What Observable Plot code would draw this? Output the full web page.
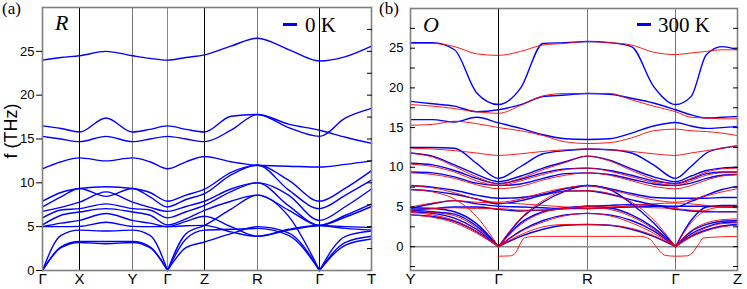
<!DOCTYPE html>
<html><head><meta charset="utf-8">
<script src="https://cdn.jsdelivr.net/npm/d3@7"></script>
<script src="https://cdn.jsdelivr.net/npm/@observablehq/plot@0.6"></script>
<style>
body{margin:0;background:#fff}
#wrap{position:relative;width:747px;height:289px;overflow:hidden}
#wrap svg{position:absolute;top:0}
.t{position:absolute;white-space:nowrap;line-height:1;color:#000}
.serif{font-family:"Liberation Serif","DejaVu Serif",serif}
.sw{position:absolute;background:#0000ff;height:3px;width:14px}
</style></head>
<body><div id="wrap"></div>
<script>
// ---- k-path (high-symmetry points) ----
const kLeft = [0, 0.37, 0.90, 1.25, 1.62, 2.15, 2.77, 3.29];
const labelsLeft = ["Γ","X","Y","Γ","Z","R","Γ","T"];
const kRight = [0, 0.88, 1.77, 2.65, 3.27];
const labelsRight = ["Y","Γ","R","Γ","Z"];
const yTicks = [0, 5, 10, 15, 20, 25];

// ---- (a) R phase, 0 K : values at Γ,m,X,m,Y,m,Γ,m,Z,m,R,m,Γ,m,T ----
const L_top = [24.0,24.3,24.5,25.0,24.5,24.2,24.0,24.3,24.6,25.6,26.5,25.2,23.9,24.4,25.6];
const L_16  = [16.5,16.2,15.8,17.4,15.8,16.1,16.5,16.1,15.8,17.6,17.8,16.7,16.0,15.2,14.5];
const L_15  = [15.3,15.0,14.7,15.3,14.7,15.0,15.3,15.0,14.7,16.0,17.8,16.3,15.3,17.4,18.5];
const L_12  = [11.6,12.4,12.85,12.5,12.85,12.4,11.6,12.4,13.0,12.4,12.0,11.9,11.8,12.1,12.5];
const L_O1  = [7.9,8.9,9.35,9.55,9.35,8.9,7.9,8.6,9.27,11.2,12.0,10.3,7.9,9.4,11.4];
const L_O2  = [7.25,8.4,9.35,8.45,9.35,8.4,7.25,8.1,8.77,10.9,12.0,9.2,7.06,8.6,10.3];
const L_O3  = [6.75,7.2,7.8,8.97,7.8,7.2,6.75,7.3,7.9,9.3,10.0,8.6,5.72,7.3,9.3];
const L_O4  = [6.0,6.9,7.06,7.6,7.06,6.9,6.0,6.7,7.44,9.0,10.0,7.4,5.15,6.3,7.6];
const L_O5  = [5.2,6.3,6.67,7.06,6.67,6.3,5.2,5.9,6.87,7.9,8.6,6.9,5.15,6.1,7.3];
const L_O6  = [5.0,5.4,5.72,6.5,5.72,5.4,5.0,5.6,6.18,5.0,3.9,4.7,5.15,5.0,4.9];
const L_O7  = [5.0,5.0,5.03,5.5,5.03,5.0,5.0,5.1,5.15,4.4,3.9,4.6,5.1,4.8,4.6];
const L_A1  = [0,2.6,3.2,3.05,3.2,2.6,0,2.6,3.25,4.2,5.0,4.3,0,2.9,3.6];
const L_A2  = [0,2.7,3.3,3.3,3.3,2.7,0,3.6,4.6,4.7,4.8,4.0,0,3.2,3.9];
const L_A3  = [0,4.0,4.6,4.5,4.6,4.0,0,4.2,5.15,7.0,8.6,6.2,0,3.9,4.5];
const bandsLeft = [L_top,L_16,L_15,L_12,L_O1,L_O2,L_O3,L_O4,L_O5,L_O6,L_O7,L_A1,L_A2,L_A3];

// ---- (b) O phase, 300 K : values at Y,q,m,q,Γ,q,m,q,R,q,m,q,Γ,q,m,q,Z ----
const B_U1 = [25.7,25.7,24.8,19.4,17.9,20.0,25.6,25.7,25.85,25.7,25.2,20.2,17.9,18.9,24.2,25.2,24.8];
const B_U2 = [18.3,18.0,17.7,17.0,17.25,17.9,18.9,19.1,19.3,19.2,18.7,18.1,17.25,16.6,16.2,16.3,16.4];
const B_U3 = [16.0,16.0,15.7,16.3,15.6,14.9,14.1,13.6,13.5,13.6,14.3,15.2,15.65,15.2,14.9,15.0,15.15];
const B_1  = [12.5,12.5,12.4,10.5,8.6,10.1,11.7,12.1,12.3,12.2,11.8,10.3,8.6,10.1,11.8,12.4,12.7];
const B_2  = [11.8,11.4,10.3,9.1,8.2,8.9,9.9,10.7,11.4,10.9,9.8,8.8,8.2,8.9,9.6,9.9,10.0];
const B_3  = [10.5,10.3,9.6,8.6,7.95,8.5,9.3,9.8,9.9,9.6,9.0,8.3,7.95,8.5,9.2,9.4,9.4];
const B_4  = [9.4,9.3,8.8,8.0,7.7,7.9,8.6,9.2,9.3,9.1,8.5,7.9,7.7,8.0,8.6,9.0,9.1];
const B_5  = [7.7,7.5,7.1,6.5,6.1,6.2,6.6,7.3,7.7,7.3,6.7,6.2,6.1,6.1,6.1,6.2,6.2];
const B_6  = [7.2,7.0,6.6,6.0,5.4,5.8,6.5,7.0,7.05,6.6,5.9,5.3,5.0,5.7,6.5,7.2,7.6];
const B_7  = [4.8,5.4,5.8,5.4,5.1,5.0,4.9,4.8,4.8,4.9,5.0,5.1,5.1,5.1,5.1,5.0,5.0];
const B_8  = [4.6,4.8,5.0,5.0,4.7,4.5,4.6,4.8,5.1,5.2,5.3,5.2,4.7,4.5,4.4,4.4,4.4];
const B_A1 = [4.0,3.8,3.2,1.9,0,1.3,2.2,2.7,2.8,2.7,2.2,1.3,0,1.3,2.1,2.6,2.8];
const B_A2 = [4.4,4.2,3.6,2.2,0,2.0,3.3,4.0,4.2,4.0,3.3,2.0,0,1.6,2.5,3.0,3.1];
const B_A3 = [4.6,4.4,4.1,2.6,0,3.0,4.4,4.9,5.1,4.9,4.0,2.4,0,1.9,2.8,3.2,3.3];
const B_A4 = [4.9,4.8,4.4,2.9,0,3.5,5.6,7.0,7.7,7.2,5.4,3.0,0,3.3,5.0,5.2,5.2];
const bandsBlue = [B_U1,B_U2,B_U3,B_1,B_2,B_3,B_4,B_5,B_6,B_7,B_8,B_A1,B_A2,B_A3,B_A4];

const R_U1 = [25.6,25.6,25.2,24.3,24.1,24.6,25.4,25.6,25.85,25.7,25.4,24.5,24.2,24.4,24.6,24.8,24.8];
const R_U2 = [17.9,17.7,17.4,17.0,16.8,17.8,19.0,19.3,19.3,19.3,18.5,17.7,17.0,16.3,16.2,16.1,16.1];
const R_U3 = [15.3,15.4,15.8,15.5,15.0,14.6,14.0,13.2,13.0,13.1,13.7,14.6,14.8,14.6,14.5,14.3,14.0];
const R_1  = [12.4,12.3,12.1,11.8,11.5,11.7,12.0,12.2,12.3,12.2,12.0,11.7,11.5,11.8,12.1,12.4,12.7];
const R_2  = [11.8,11.3,10.1,8.8,7.9,8.6,9.7,10.6,11.4,10.8,9.6,8.5,7.9,8.6,9.4,9.8,9.9];
const R_3  = [10.4,10.1,9.4,8.3,7.7,8.3,9.1,9.7,9.9,9.5,8.8,8.1,7.7,8.3,9.0,9.3,9.3];
const R_4  = [9.3,9.1,8.6,7.8,7.3,7.6,8.4,9.0,9.3,9.0,8.3,7.6,7.3,7.7,8.4,8.9,9.1];
const R_5  = [7.7,7.4,6.8,6.0,5.6,6.0,6.8,7.4,7.7,7.2,6.5,5.9,5.6,5.9,6.4,6.9,7.3];
const R_6  = [7.2,6.9,6.0,3.8,0,3.6,5.8,7.0,7.05,6.7,5.6,3.4,0,3.0,4.6,5.0,5.1];
const R_7  = [5.0,5.5,5.8,5.6,5.5,5.4,5.2,5.0,4.8,4.9,5.2,5.4,5.5,5.4,5.2,5.0,4.9];
const R_8  = [4.6,4.8,4.9,4.8,4.8,4.6,4.6,4.8,5.1,5.1,5.0,4.9,4.8,4.6,4.5,4.4,4.4];
const R_A1 = [4.3,4.0,3.3,1.9,0,1.9,3.1,3.9,4.2,3.9,3.0,1.7,0,1.4,2.4,2.9,3.0];
const R_A2 = [4.0,3.7,3.0,1.7,0,1.5,2.5,2.8,2.8,2.7,2.3,1.4,0,1.2,2.0,2.5,2.7];
const R_A3 = [4.5,4.3,3.9,2.4,0,2.8,4.3,4.8,5.0,4.7,3.8,2.2,0,2.0,3.0,3.4,3.5];
const bandsRed = [R_U1,R_U2,R_U3,R_1,R_2,R_3,R_4,R_5,R_6,R_7,R_8,R_A1,R_A2,R_A3];

// red soft mode (imaginary near Γ), own k samples
const softK = [0.88,1.00,1.05,1.09,1.14,1.25,1.77,2.30,2.40,2.45,2.55,2.65,2.77,2.83,2.88,2.93,3.27];
const softF = [-1.2,-1.15,-0.8,0.2,1.1,1.3,1.3,1.3,0.9,0.1,-1.1,-1.2,-1.15,-0.6,0.3,1.1,1.3];

// ---- helpers ----
function grid(ks, n){
  const g=[];
  for(let s=0;s<ks.length-1;s++) for(let j=0;j<n;j++) g.push(ks[s]+(ks[s+1]-ks[s])*j/n);
  g.push(ks[ks.length-1]);
  return g;
}
// continuous bands, split only at acoustic zeros (cusp at Γ)
function rows(bands, ks, n, tag){
  const g=grid(ks,n), out=[];
  bands.forEach((b,bi)=>{
    let seg=0;
    for(let i=0;i<g.length;i++){
      out.push({k:g[i], f:b[i], z:tag+bi+"-"+seg});
      if(b[i]===0 && i>0 && i<g.length-1){ seg++; out.push({k:g[i], f:b[i], z:tag+bi+"-"+seg}); }
    }
  });
  return out;
}
const leftRows = rows(bandsLeft, kLeft, 2, "L");
const blueRows = rows(bandsBlue, kRight, 4, "B");
const redRows = rows(bandsRed, kRight, 4, "R");
const softRows = softK.map((k,i)=>({k, f:softF[i]}));

const font = "'Liberation Sans', Arial, sans-serif";
const wrap = document.getElementById("wrap");

const left = Plot.plot({
  width:372, height:289, marginLeft:42, marginRight:1, marginTop:7, marginBottom:19,
  x:{domain:[kLeft[0], kLeft[kLeft.length-1]], axis:null},
  y:{domain:[0,30], axis:null},
  style:{fontFamily:font, fontSize:"13px", color:"#000", background:"transparent", overflow:"visible"},
  marks:[
    Plot.ruleX(kLeft.slice(1,-1), {stroke:(d,i)=>[ "#000","#777","#888","#000","#777","#000"][i], strokeWidth:1}),
    Plot.line(leftRows, {x:"k", y:"f", z:"z", stroke:"#0000ff", strokeWidth:1.4, curve:"monotone-x"}),
    Plot.frame({stroke:"#808080", strokeWidth:1.6}),
    Plot.axisY({ticks:yTicks, tickSize:6, tickPadding:2, label:null}),
    Plot.axisY({anchor:"right", ticks:d3.range(2.5,30,2.5), tickSize:-5, tickFormat:()=>"", label:null}),
    Plot.axisX({ticks:kLeft, tickFormat:(d,i)=>labelsLeft[i], tickSize:0, tickPadding:3, fontSize:15, label:null})
  ]
});
left.style.left="0px";
wrap.appendChild(left);

const right = Plot.plot({
  width:375, height:289, marginLeft:38, marginRight:10, marginTop:8, marginBottom:19,
  x:{domain:[kRight[0], kRight[kRight.length-1]], axis:null},
  y:{domain:[-3,30], axis:null},
  style:{fontFamily:font, fontSize:"13px", color:"#000", background:"transparent", overflow:"visible"},
  marks:[
    Plot.ruleX(kRight.slice(1,-1), {stroke:(d,i)=>["#000","#777","#777"][i], strokeWidth:1}),
    Plot.ruleY([0], {stroke:"#888", strokeWidth:1.5}),
    Plot.line(blueRows, {x:"k", y:"f", z:"z", stroke:"#0000ff", strokeWidth:1.4, curve:"monotone-x"}),
    Plot.line(redRows, {x:"k", y:"f", z:"z", stroke:"#ff0000", strokeWidth:0.9, curve:"monotone-x"}),
    Plot.line(softRows, {x:"k", y:"f", stroke:"#ff0000", strokeWidth:0.9, curve:"monotone-x"}),
    Plot.frame({stroke:"#808080", strokeWidth:1.6}),
    Plot.axisY({ticks:yTicks, tickSize:0, tickPadding:7, label:null}),
    Plot.axisY({ticks:d3.range(-2.5,30,2.5), tickSize:-5, tickFormat:()=>"", label:null}),
    Plot.axisY({anchor:"right", ticks:d3.range(-2.5,30,2.5), tickSize:-5, tickFormat:()=>"", label:null}),
    Plot.axisX({ticks:kRight, tickFormat:(d,i)=>labelsRight[i], tickSize:0, tickPadding:3, fontSize:15, label:null})
  ]
});
right.style.left="372px";
wrap.appendChild(right);

// ---- text overlays ----
function txt(s, x, y, size, cls, extra){
  const d=document.createElement("div");
  d.className="t "+(cls||"");
  d.textContent=s;
  d.style.left=x+"px"; d.style.top=y+"px"; d.style.fontSize=size+"px";
  if(extra) Object.assign(d.style, extra);
  wrap.appendChild(d);
  return d;
}
function swatch(x,y){const d=document.createElement("div");d.className="sw";d.style.left=x+"px";d.style.top=y+"px";wrap.appendChild(d);}
txt("(a)", 2, 0, 17, "serif");
txt("R", 55, 11.5, 22, "serif", {fontStyle:"italic"});
swatch(283, 23); txt("0 K", 305, 14.5, 21, "serif");
txt("(b)", 379, 0, 17, "serif");
txt("O", 423, 13.5, 22, "serif", {fontStyle:"italic"});
swatch(637, 23); txt("300 K", 658, 14.5, 21, "serif");
const yl = txt("f (THz)", 0, 0, 18, "", {fontFamily:font, transform:"translate(-50%,-50%) rotate(-90deg)"});
yl.style.left="11px"; yl.style.top="131px";
</script></body></html>
